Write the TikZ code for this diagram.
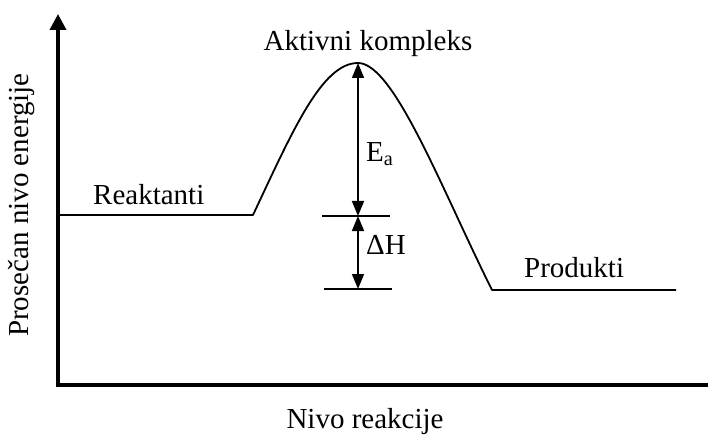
\documentclass[tikz,border=0pt]{standalone}
\usepackage{fontspec}
\setmainfont{Liberation Serif}
\usetikzlibrary{arrows.meta}
\begin{document}
\begin{tikzpicture}[x=1pt,y=-1pt,
  lbl/.style={inner sep=0pt,font=\fontsize{29}{34}\selectfont},
  axisline/.style={line width=3.5pt},
  thin/.style={line width=1.8pt},
  dimarrow/.style={line width=1.6pt,{Triangle[length=15pt,width=12pt]}-{Triangle[length=15pt,width=12pt]}}]
\useasboundingbox (0,0) rectangle (708,438);
% axes
\coordinate (O) at (58,385);
\coordinate (ytop) at (58,14);
\coordinate (xend) at (708,385);
\draw[axisline,-{Triangle[length=16pt,width=16pt]}] (O) -- (ytop);
\draw[axisline] ([xshift=-1.75pt]O) -- (xend);
% energy profile
\coordinate (r0) at (58,215);
\coordinate (r1) at (253,215);
\coordinate (peak) at (358,63);
\coordinate (p0) at (492,290);
\coordinate (p1) at (676,290);
\draw[thin,line join=round] (r0) -- (r1) .. controls (293,130) and (322,63) .. (peak)
  .. controls (394,63) and (442,190) .. (p0) -- (p1);
% level ticks
\coordinate (t1a) at (322,216);
\coordinate (t1b) at (390,216);
\coordinate (t2a) at (324,289);
\coordinate (t2b) at (392,289);
\coordinate (mid) at (358,216);
\coordinate (low) at (358,289);
\draw[thin] (t1a) -- (t1b);
\draw[thin] (t2a) -- (t2b);
\draw[dimarrow] (peak) -- (mid);
\draw[dimarrow] (mid) -- (low);
% labels
\node[lbl] (ak) at (368,44) {Aktivni kompleks};
\node[lbl,anchor=west] (rk) at (93,195) {Reaktanti};
\node[lbl,anchor=west] (pr) at (524,268) {Produkti};
\node[lbl,anchor=west] (ea) at (366,154) {E\textsubscript{a}};
\node[lbl,anchor=west] (dh) at (366,245) {ΔH};
\node[lbl] (xl) at (365,422) {Nivo reakcije};
\node[lbl,rotate=90] (yl) at (22,205) {Prosečan nivo energije};
\end{tikzpicture}
\end{document}
